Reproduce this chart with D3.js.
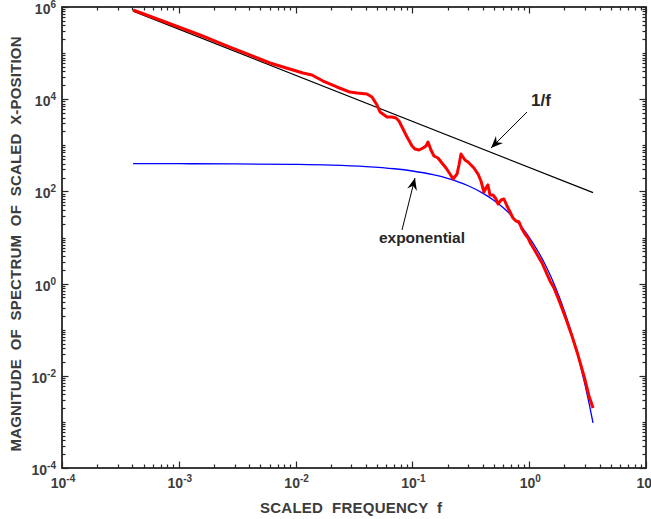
<!DOCTYPE html>
<html><head><meta charset="utf-8">
<script src="https://cdn.jsdelivr.net/npm/d3@7"></script>
<style>
body{margin:0;background:#fff;}
svg text{font-family:"Liberation Sans",Arial,Helvetica,sans-serif;font-weight:bold;}
</style></head><body>
<svg id="chart" width="651" height="519"></svg>
<script>
// ---- data ----
const xTickExps = [-4, -3, -2, -1, 0, 1];
const yTickExps = [-4, -2, 0, 2, 4, 6];

const redF = [4.06e-4, 6.9e-4, 1.519e-3, 2.74e-3, 4.95e-3, 6.04e-3, 7.80e-3, 0.01156, 0.0138, 0.01718,
  0.02259, 0.02924, 0.03357, 0.04083, 0.04508, 0.04977, 0.05284, 0.06067, 0.06683, 0.07244,
  0.07674, 0.0815, 0.0900, 0.0993, 0.1052, 0.114, 0.1233, 0.1306, 0.1361, 0.1442,
  0.1531, 0.1656, 0.179, 0.1941, 0.2099, 0.2229, 0.241, 0.2506, 0.2606, 0.271,
  0.2818, 0.2992, 0.3177, 0.3365, 0.3648, 0.3864, 0.410, 0.4266, 0.4436, 0.4613,
  0.4898, 0.520, 0.5408, 0.5741, 0.6081, 0.6457, 0.6855, 0.7261, 0.771, 0.8185,
  0.867, 0.920, 0.977, 1.035, 1.099, 1.189, 1.288, 1.393, 1.507, 1.630,
  1.835, 2.066, 2.325, 2.617, 2.946, 3.251, 3.52];
const redV = [8.61e5, 5.22e5, 2.47e5, 1.355e5, 7.45e4, 6.10e4, 4.99e4, 3.70e4, 3.35e4, 2.48e4,
  1.84e4, 1.43e4, 1.36e4, 1.30e4, 1.12e4, 7490, 5270, 4110, 4100, 3900,
  3360, 2490, 1510, 966, 832, 791, 873, 966, 1180, 791,
  586, 531, 413, 322, 238, 186, 238, 374, 647, 557,
  480, 434, 374, 322, 238, 168, 97, 119, 138, 83.6,
  83.6, 68.4, 53.3, 65.0, 68.4, 48.2, 35.7, 26.5, 22.8, 21.7,
  15.3, 11.9, 9.75, 7.22, 5.64, 3.97, 2.80, 1.79, 1.14, 0.803,
  0.379, 0.171, 0.0729, 0.0282, 0.00991, 0.00365, 0.002];

const expF = [4.06e-4, 1e-3, 3e-3, 0.01, 0.02, 0.04, 0.07, 0.1, 0.15, 0.2, 0.25, 0.3, 0.4, 0.5,
  0.6, 0.7, 0.8, 0.9, 1.0, 1.2, 1.4, 1.6, 1.8, 2.0, 2.25, 2.5, 2.75, 3.0, 3.25, 3.52];
const expV = [399.4, 398.5, 395.6, 385.6, 371.6, 345.3, 309.8, 277.0, 230.4, 191.7, 159.5, 132.7, 91.9, 63.6,
  44.0, 30.5, 21.1, 14.6, 10.1, 4.84, 2.33, 1.115, 0.534, 0.256, 0.1022, 0.0408, 0.0163, 0.0065, 0.00258, 0.000957];

const invF = [4.06e-4, 3.52];
const invV = [8.13e5, 93.8];

// annotations: [label, textF, textV, tailF, tailV, tipF, tipV]
const annoLabels = ["1/f", "exponential"];
const annoText = [[1.26, 7110], [0.1208, 7.6]];
const annoTail = [[0.958, 5270], [0.0815, 14.6]];
const annoTip  = [[0.471, 873], [0.1052, 195]];

const xTitle = "SCALED  FREQUENCY  f";
const yTitle = "MAGNITUDE  OF  SPECTRUM  OF  SCALED  X-POSITION";

// ---- layout ----
const L = 62, R = 646, T = 7, B = 468;
const axisCol = "#262626", textCol = "#3c3c3c";
const svg = d3.select("#chart");
const x = d3.scaleLog().domain([1e-4, 10]).range([L, R]);
const y = d3.scaleLog().domain([1e-4, 1e6]).range([B, T]);

const zip = (a, b) => a.map((v, i) => [v, b[i]]);
const line = d3.line().x(d => x(d[0])).y(d => y(d[1]));

// ---- series ----
svg.append("path").attr("d", line(zip(invF, invV)))
  .attr("fill", "none").attr("stroke", "#000").attr("stroke-width", 1.3);
svg.append("path").attr("d", line.curve(d3.curveMonotoneX)(zip(expF, expV)))
  .attr("fill", "none").attr("stroke", "#0000ff").attr("stroke-width", 1.3);
svg.append("path").attr("d", d3.line().x(d => x(d[0])).y(d => y(d[1]))(zip(redF, redV)))
  .attr("fill", "none").attr("stroke", "#ff0000").attr("stroke-width", 3)
  .attr("stroke-linejoin", "round");

// ---- axes frame & ticks ----
const isPow = v => Math.abs(Math.log10(v) - Math.round(Math.log10(v))) < 1e-9;
const g = svg.append("g").attr("stroke", axisCol);
const xt = x.ticks();
const yt = y.ticks(20);
const majLen = 6.5, minLen = 3.5;
xt.forEach(v => {
  const major = isPow(v) && xTickExps.includes(Math.round(Math.log10(v)));
  const len = major ? majLen : minLen, px = Math.round(x(v)) + 0.5;
  g.append("line").attr("x1", px).attr("x2", px).attr("y1", B).attr("y2", B - len).attr("stroke-width", 1.2);
  g.append("line").attr("x1", px).attr("x2", px).attr("y1", T).attr("y2", T + len).attr("stroke-width", 1.2);
});
yt.forEach(v => {
  const major = isPow(v) && yTickExps.includes(Math.round(Math.log10(v)));
  const len = major ? majLen : minLen, py = Math.round(y(v)) + 0.5;
  g.append("line").attr("y1", py).attr("y2", py).attr("x1", L).attr("x2", L + len).attr("stroke-width", 1.2);
  g.append("line").attr("y1", py).attr("y2", py).attr("x1", R).attr("x2", R - len).attr("stroke-width", 1.2);
});
g.append("rect").attr("x", L).attr("y", T).attr("width", R - L).attr("height", B - T)
  .attr("fill", "none").attr("stroke-width", 1.8);

// ---- tick labels ----
function powLabel(sel, e) {
  sel.append("tspan").text("10");
  sel.append("tspan").attr("dy", -6).attr("font-size", 10).text(e < 0 ? "-" + (-e) : String(e));
}
xTickExps.forEach(e => {
  const t = svg.append("text").attr("x", x(Math.pow(10, e)) + 1).attr("y", B + 20)
    .attr("text-anchor", "middle").attr("font-size", 14).attr("fill", textCol);
  powLabel(t, e);
});
yTickExps.forEach(e => {
  const t = svg.append("text").attr("x", L - 6).attr("y", y(Math.pow(10, e)) + 7)
    .attr("text-anchor", "end").attr("font-size", 14).attr("fill", textCol);
  powLabel(t, e);
});

// ---- axis titles ----
svg.append("text").attr("x", 351).attr("y", 513).attr("text-anchor", "middle")
  .attr("font-size", 15).attr("fill", textCol).style("white-space", "pre")
  .attr("textLength", 182).attr("lengthAdjust", "spacing").text(xTitle);
svg.append("text").attr("transform", "translate(21,244) rotate(-90)").attr("text-anchor", "middle")
  .attr("font-size", 15).attr("fill", textCol).style("white-space", "pre")
  .attr("textLength", 415).attr("lengthAdjust", "spacing").text(yTitle);

// ---- annotations ----
function arrow(x1, y1, x2, y2) {
  svg.append("line").attr("x1", x1).attr("y1", y1).attr("x2", x2).attr("y2", y2)
    .attr("stroke", "#000").attr("stroke-width", 1);
  const a = Math.atan2(y2 - y1, x2 - x1), len = 12, w = 5, notch = 8;
  const bx = x2 - len * Math.cos(a), by = y2 - len * Math.sin(a);
  const nx = x2 - notch * Math.cos(a), ny = y2 - notch * Math.sin(a);
  const px = -Math.sin(a) * w, py = Math.cos(a) * w;
  svg.append("path").attr("d", `M${x2},${y2}L${bx + px},${by + py}L${nx},${ny}L${bx - px},${by - py}Z`)
    .attr("fill", "#000");
}
annoLabels.forEach((lab, i) => {
  arrow(x(annoTail[i][0]), y(annoTail[i][1]), x(annoTip[i][0]), y(annoTip[i][1]));
  svg.append("text").attr("x", x(annoText[i][0])).attr("y", y(annoText[i][1]))
    .attr("text-anchor", "middle").attr("font-size", i === 0 ? 17 : 15.5)
    .attr("fill", "#262626").text(lab);
});
</script>
</body></html>
